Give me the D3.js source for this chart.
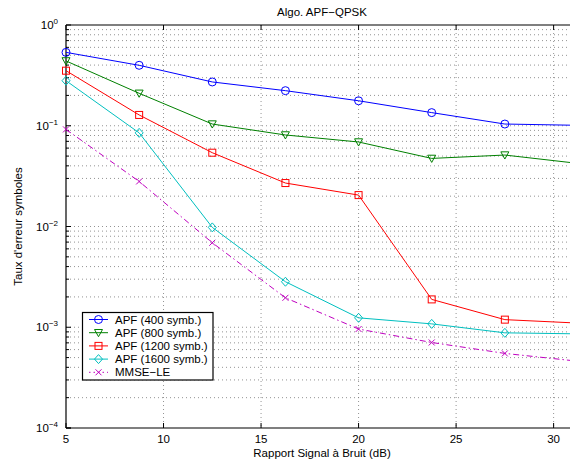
<!DOCTYPE html>
<html><head><meta charset="utf-8">
<script src="https://cdn.jsdelivr.net/npm/d3@7"></script>
<style>body{margin:0;background:#fff}svg{display:block}text{font-family:"Liberation Sans",Arial,Helvetica,sans-serif}</style>
</head><body><svg id="c" width="570" height="463"></svg>
<script>
const snr = [5, 8.75, 12.5, 16.25, 20, 23.75, 27.5, 31.25];
const apf400  = [0.535, 0.398, 0.272, 0.223, 0.177, 0.135, 0.104, 0.101];
const apf800  = [0.44, 0.21, 0.104, 0.081, 0.069, 0.0474, 0.0512, 0.0423];
const apf1200 = [0.352, 0.128, 0.054, 0.027, 0.0205, 0.00189, 0.00119, 0.0011];
const apf1600 = [0.28, 0.085, 0.0098, 0.00283, 0.00124, 0.00108, 0.00088, 0.00086];
const mmse    = [0.092, 0.028, 0.0069, 0.00196, 0.00096, 0.000706, 0.00055, 0.00046];
const seriesNames = ["APF (400 symb.)", "APF (800 symb.)", "APF (1200 symb.)", "APF (1600 symb.)", "MMSE\u2212LE"];
const xTicks = [5, 10, 15, 20, 25, 30];
const yExps = [0, -1, -2, -3, -4];
const title = "Algo. APF\u2212QPSK";
const xLabel = "Rapport Signal à Bruit (dB)";
const yLabel = "Taux d'erreur symboles";

const series = [
  {name: seriesNames[0], v: apf400, color: "#0000ff", marker: "circle", dash: null},
  {name: seriesNames[1], v: apf800, color: "#008000", marker: "tri", dash: null},
  {name: seriesNames[2], v: apf1200, color: "#ff0000", marker: "square", dash: null},
  {name: seriesNames[3], v: apf1600, color: "#00bfbf", marker: "diamond", dash: null},
  {name: seriesNames[4], v: mmse, color: "#bf00bf", marker: "x", dash: "6,3,1.5,3"}
];

const svg = d3.select("#c");
const L = 66, R = 578, T = 25, B = 428;
const x = d3.scaleLinear().domain([5, 31.25]).range([L, R]);
const y = d3.scaleLog().domain([1e-4, 1]).range([B, T]);

svg.append("defs").append("clipPath").attr("id","clip").append("rect")
  .attr("x", L).attr("y", T).attr("width", R-L).attr("height", B-T);

// grid
const g = svg.append("g");
const gridStyle = s => s.attr("stroke","#777").attr("stroke-width",0.8).attr("stroke-dasharray","1,3");
xTicks.filter(t => t > 5).forEach(t => {
  gridStyle(g.append("line").attr("x1", x(t)).attr("x2", x(t)).attr("y1", T).attr("y2", B));
});
const yMinor = [];
for (let e = -4; e < 0; e++) for (let k = 1; k < 10; k++) yMinor.push(k * Math.pow(10, e));
yMinor.push(1);
yMinor.forEach(v => {
  if (v <= 1e-4 || v >= 1) return;
  gridStyle(g.append("line").attr("x1", L).attr("x2", R).attr("y1", y(v)).attr("y2", y(v)));
});

// axes frame and ticks
const ax = svg.append("g").attr("stroke","#000");
ax.append("line").attr("x1", L).attr("x2", R).attr("y1", B).attr("y2", B).attr("stroke-width",1.2);
ax.append("line").attr("x1", L).attr("x2", R).attr("y1", T).attr("y2", T).attr("stroke-width",1.2);
ax.append("line").attr("x1", L).attr("x2", L).attr("y1", T).attr("y2", B).attr("stroke-width",1.2);
xTicks.forEach(t => {
  ax.append("line").attr("x1", x(t)).attr("x2", x(t)).attr("y1", B).attr("y2", B-5);
  ax.append("line").attr("x1", x(t)).attr("x2", x(t)).attr("y1", T).attr("y2", T+5);
});
yMinor.forEach(v => {
  const isMajor = Math.abs(Math.log10(v) - Math.round(Math.log10(v))) < 1e-9;
  ax.append("line").attr("x1", L).attr("x2", L + (isMajor ? 5 : 3)).attr("y1", y(v)).attr("y2", y(v));
});
ax.append("line").attr("x1", L).attr("x2", L+5).attr("y1", y(1e-4)).attr("y2", y(1e-4));

// tick labels
xTicks.forEach(t => {
  svg.append("text").attr("x", x(t)).attr("y", B + 15).attr("text-anchor","middle")
    .attr("font-size", 11.5).text(t);
});
yExps.forEach(e => {
  const tx = svg.append("text").attr("x", L - 8).attr("y", y(Math.pow(10, e)) + 4).attr("text-anchor","end").attr("font-size", 11.5);
  tx.append("tspan").text("10");
  tx.append("tspan").attr("dy", -5).attr("font-size", 8).text(e === 0 ? "0" : "\u2212" + (-e));
});

// labels
svg.append("text").attr("x", (L+R)/2).attr("y", 16).attr("text-anchor","middle").attr("font-size", 11.5).text(title);
svg.append("text").attr("x", (L+R)/2).attr("y", B + 29).attr("text-anchor","middle").attr("font-size", 11.5).text(xLabel);
svg.append("text").attr("transform", `translate(22,${(T+B)/2}) rotate(-90)`).attr("text-anchor","middle").attr("font-size", 11.5).text(yLabel);

function drawMarker(sel, type, cx, cy, color) {
  const s = 4;
  if (type === "circle") sel.append("circle").attr("cx", cx).attr("cy", cy).attr("r", s).attr("fill","none").attr("stroke", color);
  else if (type === "tri") sel.append("path").attr("d", `M${cx-s},${cy-s*0.8}L${cx+s},${cy-s*0.8}L${cx},${cy+s}Z`).attr("fill","none").attr("stroke", color);
  else if (type === "square") sel.append("rect").attr("x", cx-3.5).attr("y", cy-3.5).attr("width",7).attr("height",7).attr("fill","none").attr("stroke", color);
  else if (type === "diamond") sel.append("path").attr("d", `M${cx},${cy-s-0.5}L${cx+s},${cy}L${cx},${cy+s+0.5}L${cx-s},${cy}Z`).attr("fill","none").attr("stroke", color);
  else if (type === "x") sel.append("path").attr("d", `M${cx-3},${cy-3}L${cx+3},${cy+3}M${cx-3},${cy+3}L${cx+3},${cy-3}`).attr("stroke", color);
}

const plot = svg.append("g").attr("clip-path","url(#clip)");
const marks = svg.append("g");
const line = d3.line().x((d,i) => x(snr[i])).y(d => y(d));
series.forEach(s => {
  const p = plot.append("path").attr("d", line(s.v)).attr("fill","none").attr("stroke", s.color).attr("stroke-width", 1);
  if (s.dash) p.attr("stroke-dasharray", s.dash);
  s.v.forEach((v, i) => drawMarker(marks, s.marker, x(snr[i]), y(v), s.color));
});

// legend
const lg = svg.append("g");
lg.append("rect").attr("x", 82.5).attr("y", 312.5).attr("width", 130.5).attr("height", 67.5)
  .attr("fill","#fff").attr("stroke","#000").attr("stroke-width",1.2);
series.forEach((s, i) => {
  const ly = 319.5 + i * 13.2;
  const l = lg.append("line").attr("x1", 89).attr("x2", 108).attr("y1", ly).attr("y2", ly).attr("stroke", s.color);
  if (s.dash) l.attr("stroke-dasharray", "1.5,3");
  drawMarker(lg, s.marker, 98.5, ly, s.color);
  lg.append("text").attr("x", 115).attr("y", ly + 4).attr("font-size", 11.5).text(s.name);
});
</script></body></html>
